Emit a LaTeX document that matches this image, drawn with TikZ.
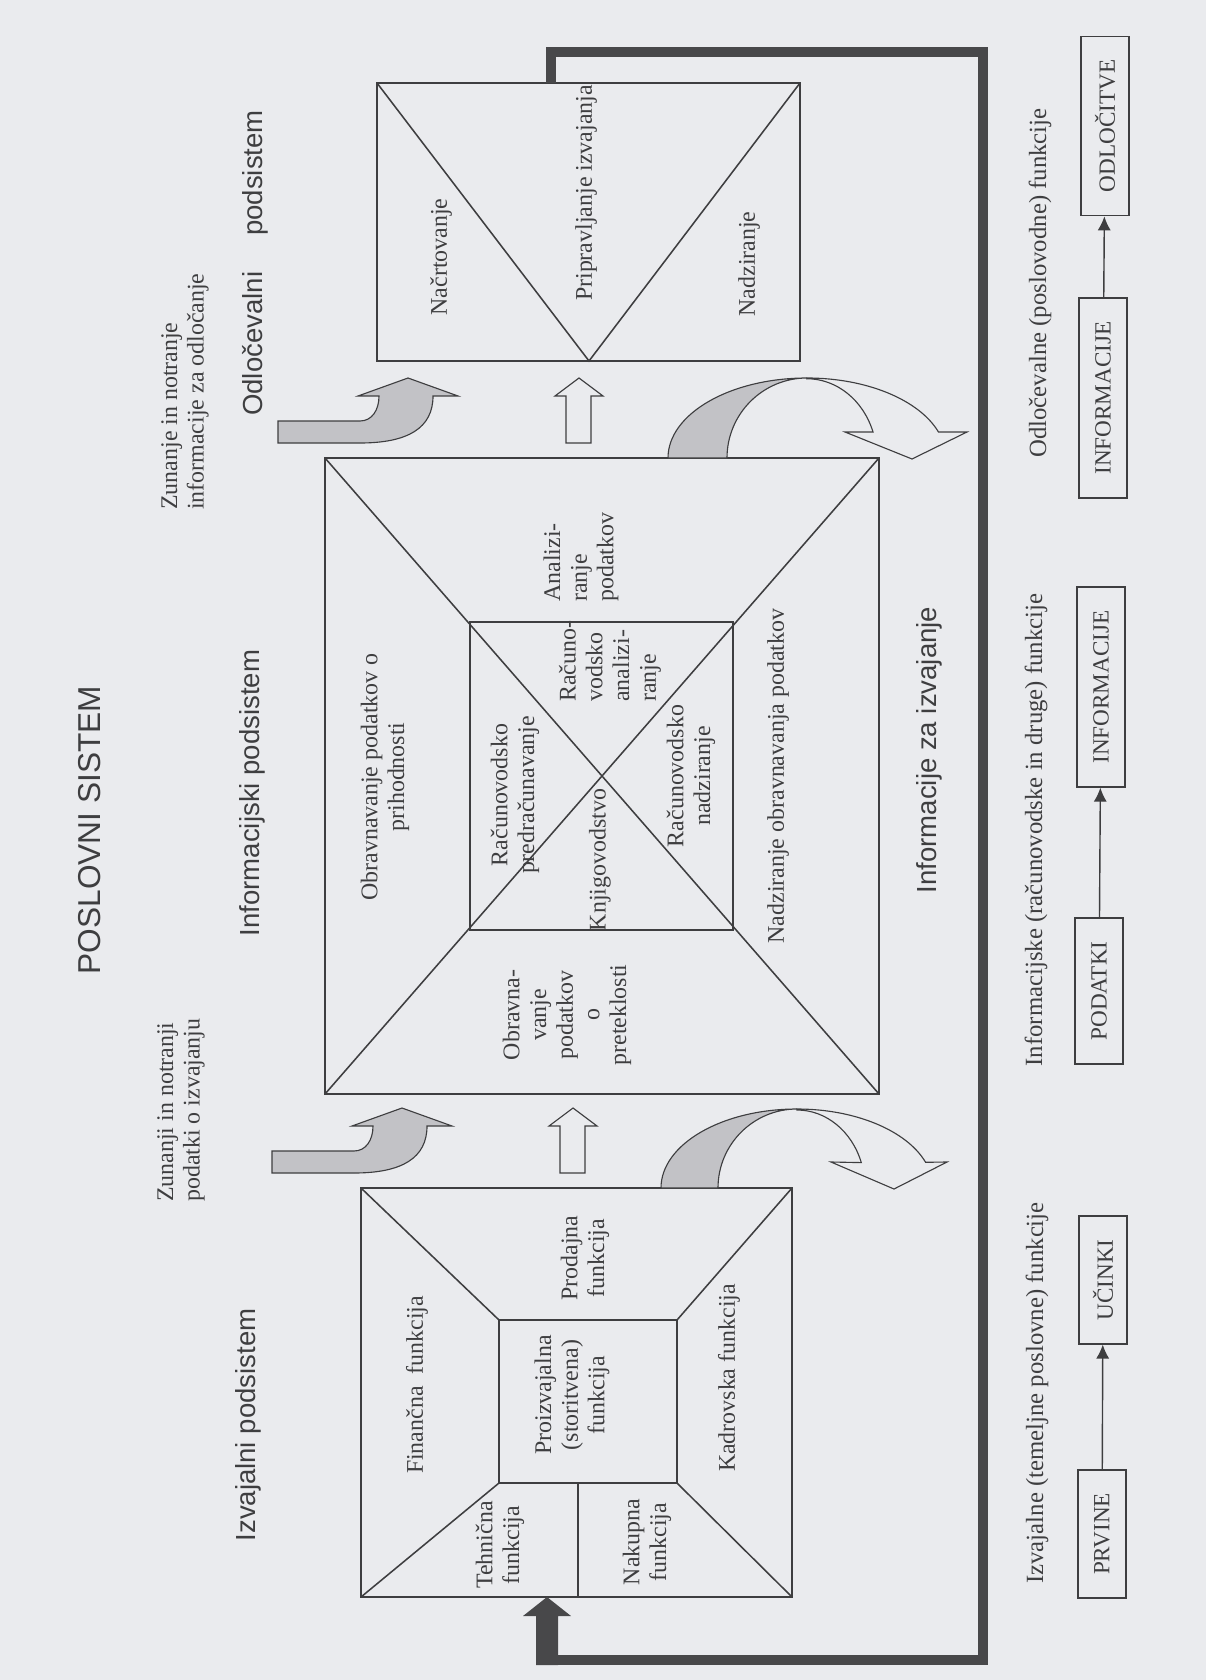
\documentclass[tikz,border=0pt]{standalone}
\usepackage{fontspec}
\setmainfont{Liberation Serif}
\setsansfont{Liberation Sans}
\usetikzlibrary{arrows.meta}

\definecolor{paper}{RGB}{234,235,238}
\definecolor{ink}{RGB}{62,62,64}
\definecolor{shade}{RGB}{194,194,198}
\definecolor{framegray}{RGB}{72,72,74}

\tikzset{
  boxline/.style = {draw = ink, line width = 1.1pt},
  fnlabel/.style = {rotate = 90, inner sep = 0pt, text = ink, font = \fontsize{17}{19}\selectfont},
  keylabel/.style = {rotate = 90, inner sep = 0pt, text = ink, font = \fontsize{17.6}{20}\selectfont},
  sublabel/.style = {rotate = 90, inner sep = 0pt, text = ink, font = \sffamily\fontsize{19.6}{23}\selectfont},
  flowbox/.style = {draw = ink, line width = 1.1pt, rotate = 90, inner xsep = 0.58cm, minimum height = 1.2cm, text = ink, font = \fontsize{16.5}{18.5}\selectfont},
  flowarrow/.style = {draw = ink, line width = 1pt, -{Latex[length = 0.35cm, width = 0.33cm]}},
  bendarrow/.style = {fill = shade, draw = ink, line width = 0.8pt},
  hollowarrow/.style = {fill = paper, draw = ink, line width = 0.8pt}
}

\begin{document}
\begin{tikzpicture}[x = 0.025cm, y = -0.025cm]
\fill[paper] (0, 0) rectangle (1206, 1680);
\useasboundingbox (0, 0) rectangle (1206, 1680);

\node[sublabel, font = \sffamily\fontsize{22.5}{26}\selectfont] (title) at (90, 830) {POSLOVNI SISTEM};
\node[sublabel] (izvtitle) at (248, 1425) {Izvajalni podsistem};
\node[sublabel] (inftitle) at (252, 793) {Informacijski podsistem};
\node[sublabel] (odltitle) at (255, 263) {Odločevalni\hspace{0.9cm}podsistem};
\node[sublabel] (infizv) at (929, 750) {Informacije za izvajanje};

\node[fnlabel, anchor = west, align = left] (zinf) at (185, 510) {Zunanje in notranje\\informacije za odločanje};
\node[fnlabel, anchor = west, align = left] (zpod) at (181, 1202) {Zunanji in notranji\\podatki o izvajanju};

\draw[boxline] (377, 83) rectangle (800, 361);
\draw[boxline] (377, 83) -- (589, 361) -- (800, 83);
\node[fnlabel] (nacrt) at (441, 257) {Načrtovanje};
\node[fnlabel] (pripr) at (586, 193) {Pripravljanje izvajanja};
\node[fnlabel] (nadz) at (749, 264) {Nadziranje};

\draw[boxline] (325, 458) rectangle (879, 1094);
\draw[boxline] (325, 458) -- (879, 1094);
\draw[boxline] (879, 458) -- (325, 1094);
\draw[boxline] (470, 622) rectangle (733, 930);
\node[fnlabel, align = center] (obrprih) at (385, 777) {Obravnavanje podatkov o\\prihodnosti};
\node[fnlabel, anchor = west, align = left] (anpod) at (581, 602) {Analizi-\\ranje\\podatkov};
\node[fnlabel, align = center] (nadzobr) at (778, 776) {Nadziranje obravnavanja podatkov};
\node[fnlabel, align = center] (obrpret) at (567, 1015) {Obravna-\\vanje\\podatkov\\o\\preteklosti};
\node[fnlabel, align = center] (predr) at (515, 795) {Računovodsko\\predračunavanje};
\node[fnlabel] (knjig) at (600, 860) {Knjigovodstvo};
\node[fnlabel, anchor = west, align = left] (racan) at (610, 702) {Računo-\\vodsko\\analizi-\\ranje};
\node[fnlabel, align = center] (racnadz) at (691, 776) {Računovodsko\\nadziranje};

\draw[boxline] (361, 1188) rectangle (792, 1597);
\draw[boxline] (499, 1320) rectangle (677, 1483);
\draw[boxline] (361, 1188) -- (499, 1320);
\draw[boxline] (792, 1188) -- (677, 1320);
\draw[boxline] (361, 1597) -- (499, 1483);
\draw[boxline] (792, 1597) -- (677, 1483);
\draw[boxline] (578, 1483) -- (578, 1597);
\node[fnlabel] (finan) at (417, 1385) {Finančna\ \ funkcija};
\node[fnlabel, align = center] (proizv) at (572, 1395) {Proizvajalna\\(storitvena)\\funkcija};
\node[fnlabel, align = center] (prod) at (585, 1258) {Prodajna\\funkcija};
\node[fnlabel, align = center] (tehn) at (500, 1545) {Tehnična\\funkcija};
\node[fnlabel, align = center] (nakup) at (647, 1542) {Nakupna\\funkcija};
\node[fnlabel] (kadr) at (729, 1378) {Kadrovska funkcija};

\filldraw[bendarrow] (278, 421) -- (360, 421) .. controls (372, 421) and (379, 410) .. (379, 396) -- (358, 396) -- (408, 378) -- (458, 396) -- (433, 396) .. controls (433, 428) and (408, 443) .. (360, 443) -- (278, 443) -- cycle;
\filldraw[hollowarrow] (566, 443) -- (566, 396) -- (555, 396) -- (579, 378) -- (603, 396) -- (591, 396) -- (591, 443) -- cycle;
\filldraw[bendarrow] (668, 458) arc[start angle = 180, end angle = 270, x radius = 139, y radius = 80] arc[start angle = 270, end angle = 180, radius = 80] -- cycle;
\filldraw[hollowarrow] (807, 378) arc[start angle = 270, end angle = 341, x radius = 139, y radius = 80] -- (967, 432) -- (912, 459) -- (845, 432) -- (873, 432) arc[start angle = 341, end angle = 270, x radius = 70, y radius = 79] -- cycle;

\filldraw[bendarrow] (272, 1151) -- (354, 1151) .. controls (366, 1151) and (373, 1140) .. (373, 1126) -- (352, 1126) -- (402, 1108) -- (452, 1126) -- (427, 1126) .. controls (427, 1158) and (402, 1173) .. (354, 1173) -- (272, 1173) -- cycle;
\filldraw[hollowarrow] (560, 1173) -- (560, 1126) -- (549, 1126) -- (573, 1108) -- (597, 1126) -- (585, 1126) -- (585, 1173) -- cycle;
\filldraw[bendarrow] (661, 1188) arc[start angle = 180, end angle = 270, x radius = 136, y radius = 79] arc[start angle = 270, end angle = 180, radius = 79] -- cycle;
\filldraw[hollowarrow] (797, 1109) arc[start angle = 270, end angle = 341, x radius = 136, y radius = 79] -- (947, 1162) -- (894, 1189) -- (831, 1162) -- (861.3, 1162.6) arc[start angle = 341, end angle = 270, x radius = 68, y radius = 78] -- cycle;

\draw[line width = 0.25cm, framegray, line join = miter] (551, 83) -- (551, 52) -- (983, 52) -- (983, 1660) -- (547, 1660) -- (547, 1640);
\fill[framegray] (536, 1665) -- (536, 1616) -- (523, 1616) -- (547, 1597) -- (571, 1616) -- (558, 1616) -- (558, 1665) -- cycle;

\node[keylabel] (izvfn) at (1037, 1393) {Izvajalne (temeljne poslovne) funkcije};
\node[keylabel] (inffn) at (1036, 830) {Informacijske (računovodske in druge) funkcije};
\node[keylabel] (odlfn) at (1040, 283) {Odločevalne (poslovodne) funkcije};

\node[flowbox] (prvine) at (1102, 1534) {PRVINE};
\node[flowbox] (ucinki) at (1103, 1280) {UČINKI};
\node[flowbox] (podatki) at (1099, 991) {PODATKI};
\node[flowbox] (infoa) at (1101, 687) {INFORMACIJE};
\node[flowbox] (infob) at (1103, 398) {INFORMACIJE};
\node[flowbox] (odloc) at (1105, 126) {ODLOČITVE};
\draw[flowarrow] (prvine) -- (ucinki);
\draw[flowarrow] (podatki) -- (infoa);
\draw[flowarrow] (infob) -- (odloc);
\end{tikzpicture}
\end{document}
